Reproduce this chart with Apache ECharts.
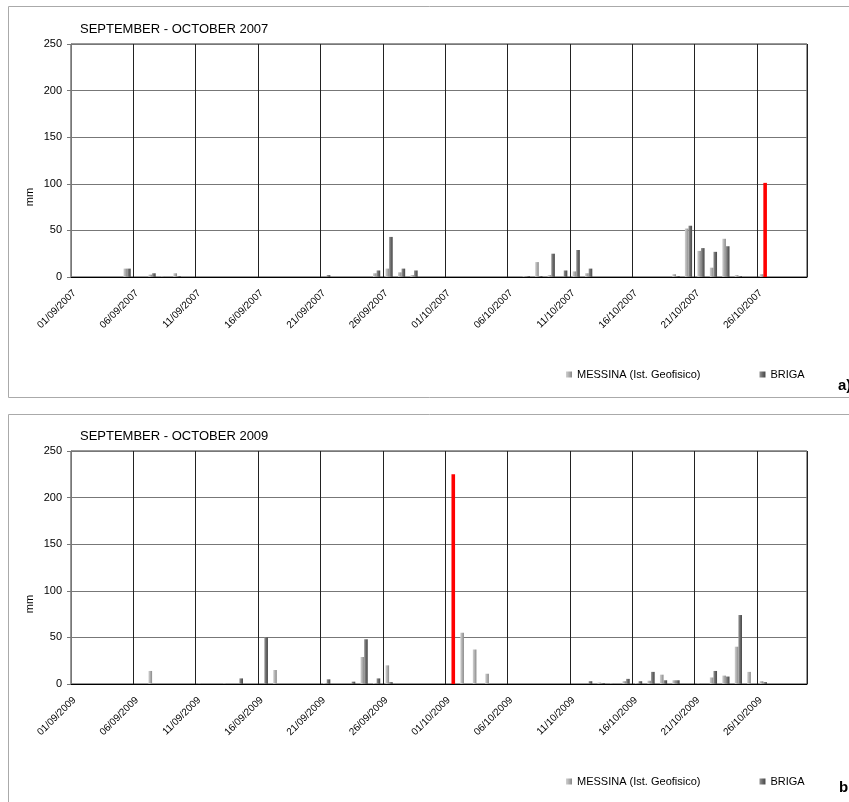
<!DOCTYPE html>
<html>
<head>
<meta charset="utf-8">
<script src="https://cdn.jsdelivr.net/npm/echarts@6/dist/echarts.min.js"></script>
<style>
html,body{margin:0;padding:0;background:#fff;}
#chart{width:849px;height:802px;}
</style>
</head>
<body>
<div id="chart"></div>
<script>
// Day index 0 = 01/09 ... 58 = 29/10
const NDAYS = 59;
const ticks2007 = ['01/09/2007','06/09/2007','11/09/2007','16/09/2007','21/09/2007','26/09/2007','01/10/2007','06/10/2007','11/10/2007','16/10/2007','21/10/2007','26/10/2007'];
const ticks2009 = ['01/09/2009','06/09/2009','11/09/2009','16/09/2009','21/09/2009','26/09/2009','01/10/2009','06/10/2009','11/10/2009','16/10/2009','21/10/2009','26/10/2009'];

// daily rainfall (mm), 59 values each
const messina2007 = [0,0,0,0,9,0,2.5,0.5,4,0, 0,0,0,0,0,0,0,0,0,0, 0,0,0,0,4,9,5,2,0,0, 0,0,0,0,0,0,1,16,2,0, 6,4,0,0,0,0,0,0,3,52, 28,10,41,2,0,3,0,0,0];
const briga2007   = [0,0,0,0,9,0,4,0,1,0, 0,0,0,0,0,0,0,0,0,0, 2,0,0,0,7,43,9,7,0,0, 0,0,0,0,0,0,1,1,25,7, 29,9,0,0,0,0,0,0,1,55, 31,27,33,1,0,101,0,0,0];
const messina2009 = [0,0,0,0,0,0,14,0,0,0, 0.5,0,0.5,0,0,0,15,0,0,0, 1,0,0,29,1,20,0,0,0,0, 0,55,37,11,0,0,0,0,0,0, 0,0,1.5,0.5,3,1,3.5,10,4,0, 0.5,7,9,40,13,3,0,0,0];
const briga2009   = [0,0,0,0,0,0,0,0,0,0, 0,0,0,6,0,50,0,0,0,0, 5,0,2.5,48,6,2,0,0,0,0, 225,0,0,0,0,0,0,0,0,0, 0,3,1,0,5.5,3,13,4,4,0, 0,14,8,74,0,2,0,0,0];
// highlighted (red) BRIGA day index
const red2007 = 55;
const red2009 = 30;

const FONT = 'Liberation Sans, Arial, sans-serif';
const lightGrad = new echarts.graphic.LinearGradient(0,0,1,0,[{offset:0,color:'#d0d0d0'},{offset:0.5,color:'#b0b0b0'},{offset:1,color:'#888888'}]);
const darkGrad = new echarts.graphic.LinearGradient(0,0,1,0,[{offset:0,color:'#959595'},{offset:0.5,color:'#6a6a6a'},{offset:1,color:'#474747'}]);

function toData(arr, redIdx){
  return arr.map((v,i)=> i===redIdx ? {value:[i+0.5,v], itemStyle:{color:'#ff0000'}} : [i+0.5,v]);
}

const grids = [
  {left:71, top:44, width:736, height:233, show:true, borderColor:'#333', borderWidth:1},
  {left:71, top:451, width:736, height:233, show:true, borderColor:'#333', borderWidth:1}
];

function xAx(gi, labels){
  return {gridIndex:gi, type:'value', min:0, max:NDAYS, interval:5,
    axisLine:{show:true, onZero:false, lineStyle:{color:'#000', width:1}},
    axisTick:{show:false},
    splitLine:{show:true, lineStyle:{color:'#222', width:1}},
    axisLabel:{rotate:45, fontSize:10, fontFamily:FONT, color:'#000', margin:11,
      align:'right', verticalAlign:'top',
      formatter:(v)=> (v%5===0 && v<NDAYS) ? labels[v/5] : ''}
  };
}
function yAx(gi){
  return {gridIndex:gi, type:'value', min:0, max:250, interval:50,
    axisLine:{show:true, lineStyle:{color:'#777'}},
    axisTick:{show:true, length:4, lineStyle:{color:'#777'}},
    splitLine:{show:true, lineStyle:{color:'#777', width:1}},
    axisLabel:{fontSize:11, fontFamily:FONT, color:'#000', margin:9}
  };
}
function barS(name, gi, data, grad){
  return {type:'bar', name:name, xAxisIndex:gi, yAxisIndex:gi, data:data,
    barWidth:3.6, barGap:'0%', itemStyle:{color:grad}, silent:true};
}
const N1 = 'MESSINA (Ist. Geofisico)', N2 = 'BRIGA';
function legendAt(top){
  return {left:561, top:top, itemWidth:6, itemHeight:6, itemGap:59, icon:'rect',
    textStyle:{fontSize:11, fontFamily:FONT, color:'#000'}, data:[N1,N2], selectedMode:false};
}

const option = {
  animation:false,
  backgroundColor:'#fff',
  title:[
    {text:'SEPTEMBER - OCTOBER 2007', left:75, top:18, textStyle:{fontSize:13, fontWeight:'normal', fontFamily:FONT, color:'#000'}},
    {text:'SEPTEMBER - OCTOBER 2009', left:75, top:425, textStyle:{fontSize:13, fontWeight:'normal', fontFamily:FONT, color:'#000'}}
  ],
  legend:[legendAt(364), legendAt(771)],
  grid:grids,
  xAxis:[xAx(0,ticks2007), xAx(1,ticks2009)],
  yAxis:[yAx(0), yAx(1)],
  series:[
    barS(N1,0,toData(messina2007,-1),lightGrad),
    barS(N2,0,toData(briga2007,red2007),darkGrad),
    barS(N1,1,toData(messina2009,-1),lightGrad),
    barS(N2,1,toData(briga2009,red2009),darkGrad)
  ],
  graphic:[
    {type:'rect', shape:{x:8.5,y:6.5,width:900,height:391}, style:{fill:'none', stroke:'#aaa', lineWidth:1}, z:-10},
    {type:'rect', shape:{x:8.5,y:414.5,width:900,height:400}, style:{fill:'none', stroke:'#aaa', lineWidth:1}, z:-10},
    {type:'text', x:30, y:197, rotation:Math.PI/2, style:{text:'mm', fontSize:11, fontFamily:FONT, fill:'#000', align:'center', verticalAlign:'middle'}},
    {type:'text', x:30, y:604, rotation:Math.PI/2, style:{text:'mm', fontSize:11, fontFamily:FONT, fill:'#000', align:'center', verticalAlign:'middle'}},
    {type:'text', x:838, y:386, style:{text:'a)', fontSize:15, fontWeight:'bold', fontFamily:FONT, fill:'#000', align:'left', verticalAlign:'middle'}},
    {type:'text', x:839, y:788, style:{text:'b', fontSize:15, fontWeight:'bold', fontFamily:FONT, fill:'#000', align:'left', verticalAlign:'middle'}}
  ]
};
const chart = echarts.init(document.getElementById('chart'), null, {renderer:'canvas'});
chart.setOption(option);
</script>
</body>
</html>
